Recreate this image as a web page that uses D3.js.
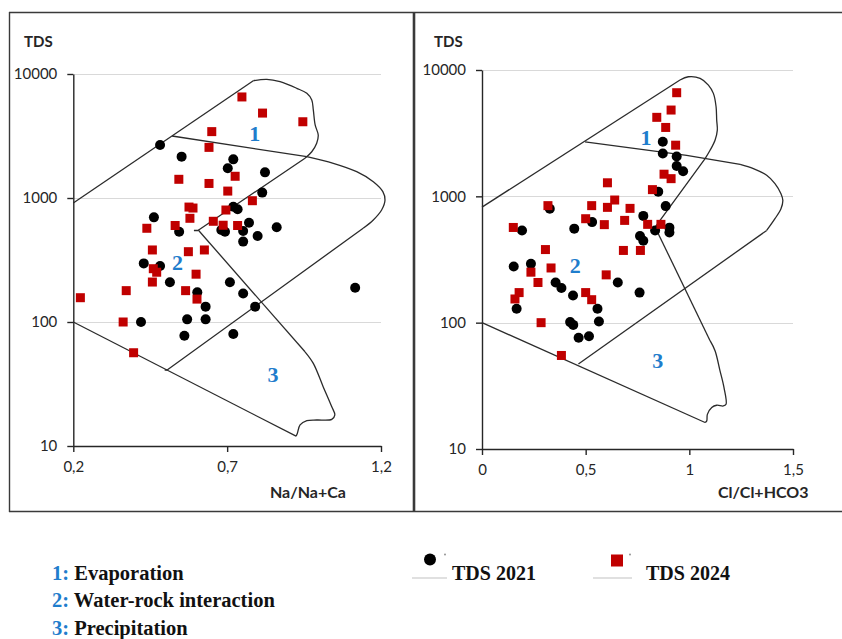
<!DOCTYPE html>
<html>
<head>
<meta charset="utf-8">
<script src="https://cdn.jsdelivr.net/npm/d3@7"></script>
<style>
  html, body { margin: 0; padding: 0; background: #fff; }
  svg { display: block; }
</style>
</head>
<body>
<script>
// ---- Samples: [ratio, TDS (mg/L)] ----
const naTds2021 = [
  [0.482, 2680], [0.552, 2155], [0.720, 2050], [0.702, 1740], [0.823, 1610],
  [0.814, 1105], [0.720, 851], [0.734, 811], [0.462, 698], [0.771, 632],
  [0.544, 535], [0.681, 552], [0.693, 535], [0.752, 542], [0.861, 581],
  [0.799, 494], [0.752, 445], [0.429, 297], [0.482, 283], [0.514, 209],
  [0.709, 209], [0.603, 174], [0.752, 170], [0.630, 133], [0.791, 133],
  [1.116, 189], [0.420, 100], [0.570, 105], [0.630, 105], [0.561, 77.5],
  [0.720, 80]
];
const naTds2024 = [
  [0.748, 6530], [0.815, 4840], [0.946, 4120], [0.650, 3430], [0.641, 2560],
  [0.543, 1415], [0.641, 1310], [0.726, 1497], [0.702, 1137], [0.782, 951],
  [0.576, 845], [0.589, 830], [0.696, 800], [0.579, 686], [0.439, 570],
  [0.531, 600], [0.655, 649], [0.687, 603], [0.734, 600], [0.457, 381],
  [0.574, 369], [0.626, 381], [0.460, 269], [0.471, 252], [0.599, 243],
  [0.457, 210], [0.372, 179], [0.565, 179], [0.602, 153], [0.223, 157],
  [0.362, 100], [0.396, 56.5]
];
const clTds2021 = [
  [0.872, 2700], [0.872, 2180], [0.939, 2065], [0.939, 1737], [0.970, 1578],
  [0.850, 1089], [0.886, 837], [0.327, 797], [0.193, 537], [0.445, 555],
  [0.531, 625], [0.778, 700], [0.762, 486], [0.778, 445], [0.835, 537],
  [0.904, 565], [0.904, 518], [0.153, 278], [0.236, 292], [0.355, 208],
  [0.383, 188], [0.439, 164], [0.655, 208], [0.760, 173], [0.167, 129],
  [0.557, 129], [0.425, 101], [0.440, 96], [0.564, 102], [0.466, 76],
  [0.516, 78]
];
const clTds2024 = [
  [0.939, 6610], [0.912, 4820], [0.843, 4220], [0.886, 3510], [0.934, 2540],
  [0.878, 1497], [0.912, 1380], [0.605, 1280], [0.822, 1130], [0.640, 935],
  [0.318, 844], [0.529, 844], [0.605, 818], [0.714, 803], [0.500, 665],
  [0.688, 645], [0.590, 597], [0.151, 567], [0.799, 600], [0.863, 600],
  [0.306, 379], [0.682, 373], [0.764, 373], [0.333, 271], [0.236, 251],
  [0.270, 208], [0.599, 239], [0.179, 173], [0.159, 154], [0.500, 173],
  [0.529, 152], [0.285, 100], [0.383, 55]
];

// ---- Gibbs field outlines: straight runs and rounded runs, [ratio, TDS] ----
const naLines = [
  [[0.2, 912], [0.785, 8835]],
  [[0.953, 2090], [0.605, 547], [0.592, 547]],
  [[0.521, 3162], [0.959, 2153]],
  [[1.142, 570], [0.505, 41], [0.497, 41]],
  [[0.606, 552], [0.953, 57.5]],
  [[0.924, 12.0], [0.2, 100]]
];
const naCurves = [
  [[0.785, 8835], [0.829, 9060], [0.872, 8665], [0.926, 7670], [0.959, 6980],
   [0.975, 6170], [0.980, 5130], [0.986, 3880], [0.996, 3220], [0.991, 2760],
   [0.975, 2360], [0.953, 2090]],
  [[0.959, 2153], [1.045, 1905], [1.121, 1630], [1.175, 1353], [1.206, 1125],
   [1.213, 964], [1.202, 800], [1.175, 665], [1.142, 570]],
  [[0.953, 57.5], [0.980, 46.4], [1.012, 30.1], [1.040, 20.7], [1.050, 17.8],
   [1.040, 16.4], [0.991, 16.2], [0.959, 16.0], [0.937, 14.8], [0.928, 12.6],
   [0.924, 12.0]]
];
const clLines = [
  [[0, 822], [0.955, 8330]],
  [[1.076, 1990], [0.835, 570], [0.819, 554]],
  [[0.497, 2700], [0.987, 2113], [1.245, 1794]],
  [[1.373, 537], [0.465, 47.0]],
  [[0.835, 570], [1.100, 72.0]],
  [[1.076, 16.2], [0, 100]]
];
const clCurves = [
  [[0.955, 8330], [0.995, 8840], [1.052, 8590], [1.092, 7600], [1.116, 6530],
   [1.129, 5120], [1.132, 4010], [1.135, 3340], [1.124, 2780], [1.100, 2315],
   [1.076, 1990]],
  [[1.245, 1794], [1.309, 1660], [1.373, 1468], [1.413, 1262], [1.442, 1049],
   [1.451, 929], [1.442, 798], [1.413, 665], [1.373, 537]],
  [[1.100, 72.0], [1.124, 60.0], [1.148, 41.6], [1.167, 30.7], [1.177, 22.6],
   [1.164, 21.9], [1.132, 22.2], [1.108, 21.3], [1.087, 18.8], [1.084, 16.7],
   [1.076, 16.2]]
];

// ---- Field numbers: [label, ratio, TDS] ----
const naFieldLabels = [["1", 0.790, 3340], ["2", 0.539, 305], ["3", 0.849, 38.1]];
const clFieldLabels = [["1", 0.791, 2940], ["2", 0.450, 283], ["3", 0.848, 50.8]];

// ---- Axes ----
const tdsTicks = [10, 100, 1000, 10000];
const naTicks = [0.2, 0.7, 1.2];
const clTicks = [0, 0.5, 1, 1.5];
const fieldNames = [["1:", "Evaporation"], ["2:", "Water-rock interaction"], ["3:", "Precipitation"]];
const seriesNames = ["TDS 2021", "TDS 2024"];

const W = 842, H = 639;
const blue = "#1f7dcc";
const red = "#c00000";
const axisFont = "Lato, 'Open Sans', sans-serif";
const serif = "'Liberation Serif', 'DejaVu Serif', serif";

const svg = d3.select("body").append("svg")
  .attr("width", W).attr("height", H)
  .attr("viewBox", `0 0 ${W} ${H}`);
svg.append("rect").attr("width", W).attr("height", H).attr("fill", "#fff");

// panel frames
const frame = svg.append("g").attr("stroke", "#3a3a3a").attr("fill", "none");
frame.append("line").attr("x1", 9).attr("x2", W).attr("y1", 12.5).attr("y2", 12.5).attr("stroke-width", 1.4);
frame.append("line").attr("x1", 9).attr("x2", W).attr("y1", 511.5).attr("y2", 511.5).attr("stroke-width", 1.4);
frame.append("line").attr("x1", 9.5).attr("x2", 9.5).attr("y1", 12).attr("y2", 512).attr("stroke-width", 1.4);
frame.append("line").attr("x1", 414).attr("x2", 414).attr("y1", 12).attr("y2", 512).attr("stroke-width", 2.6);

const commaFmt = d3.formatLocale({ decimal: ",", thousands: "", grouping: [3], currency: ["", ""] });

function panel(opts) {
  const { xDomain, xRange, yRange, xTicks, xTitle, xTitleX, tdsX, s2021, s2024, lines, curves, fieldLabels } = opts;
  const x = d3.scaleLinear().domain(xDomain).range(xRange);
  const y = d3.scaleLog().domain([10, 10000]).range(yRange);
  const g = svg.append("g");

  // gridlines
  g.append("g").selectAll("line").data(tdsTicks.filter(d => d > 10)).join("line")
    .attr("x1", xRange[0]).attr("x2", xRange[1])
    .attr("y1", d => Math.round(y(d)) + 0.5).attr("y2", d => Math.round(y(d)) + 0.5)
    .attr("stroke", "#d9d9d9").attr("stroke-width", 1);

  // axes
  const yAxis = d3.axisLeft(y).tickValues(tdsTicks).tickFormat(d3.format("d"))
    .tickSize(6).tickSizeOuter(0).tickPadding(10);
  const xAxis = d3.axisBottom(x).tickValues(xTicks).tickFormat(commaFmt.format("~g"))
    .tickSize(6).tickSizeOuter(0).tickPadding(9);
  const ya = g.append("g").attr("transform", `translate(${xRange[0]},0)`).call(yAxis);
  const xa = g.append("g").attr("transform", `translate(0,${yRange[0]})`).call(xAxis);
  [ya, xa].forEach(a => {
    a.select(".domain").attr("stroke", "#262626").attr("stroke-width", 1.4);
    a.selectAll(".tick line").attr("stroke", "#262626").attr("stroke-width", 1.4);
    a.selectAll(".tick text").attr("fill", "#262626")
      .style("font-family", axisFont).style("font-size", "15px");
  });

  // axis titles
  g.append("text").attr("x", tdsX).attr("y", 47).text("TDS")
    .attr("fill", "#262626").style("font-family", axisFont)
    .style("font-size", "15px").style("font-weight", "bold");
  g.append("text").attr("x", xTitleX).attr("y", 498).text(xTitle)
    .attr("fill", "#262626").style("font-family", axisFont)
    .style("font-size", "16px").style("font-weight", "bold");

  // Gibbs field outlines
  const straight = d3.line().x(d => x(d[0])).y(d => y(d[1]));
  const rounded = d3.line().x(d => x(d[0])).y(d => y(d[1])).curve(d3.curveCatmullRom.alpha(0.5));
  const outl = g.append("g").attr("fill", "none").attr("stroke", "#2b2b2b")
    .attr("stroke-width", 1.3).attr("stroke-linejoin", "round");
  outl.selectAll("path.s").data(lines).join("path").attr("class", "s").attr("d", straight);
  outl.selectAll("path.c").data(curves).join("path").attr("class", "c").attr("d", rounded);

  // field numbers
  g.append("g").selectAll("text").data(fieldLabels).join("text")
    .attr("x", d => x(d[1])).attr("y", d => y(d[2]))
    .attr("text-anchor", "middle").attr("dy", "0.35em")
    .attr("fill", blue).style("font-family", serif)
    .style("font-size", "22px").style("font-weight", "bold")
    .text(d => d[0]);

  // samples
  g.append("g").selectAll("circle").data(s2021).join("circle")
    .attr("cx", d => x(d[0])).attr("cy", d => y(d[1])).attr("r", 5)
    .attr("fill", "#000");
  const sq = 9;
  g.append("g").selectAll("rect").data(s2024).join("rect")
    .attr("x", d => x(d[0]) - sq / 2).attr("y", d => y(d[1]) - sq / 2)
    .attr("width", sq).attr("height", sq)
    .attr("fill", red);
}

panel({
  xDomain: [0.2, 1.2], xRange: [73.3, 381], yRange: [446, 74],
  xTicks: naTicks, xTitle: "Na/Na+Ca", xTitleX: 270, tdsX: 24,
  s2021: naTds2021, s2024: naTds2024, lines: naLines, curves: naCurves,
  fieldLabels: naFieldLabels
});
panel({
  xDomain: [0, 1.5], xRange: [482, 793], yRange: [449, 70],
  xTicks: clTicks, xTitle: "Cl/Cl+HCO3", xTitleX: 718, tdsX: 434,
  s2021: clTds2021, s2024: clTds2024, lines: clLines, curves: clCurves,
  fieldLabels: clFieldLabels
});

// ---- field legend ----
const fl = svg.append("g").style("font-family", serif).style("font-size", "20.5px").style("font-weight", "bold");
fl.selectAll("text").data(fieldNames).join("text")
  .attr("x", 52).attr("y", (d, i) => 579.5 + i * 27.5)
  .each(function (d) {
    const t = d3.select(this);
    t.append("tspan").attr("fill", blue).text(d[0]);
    t.append("tspan").attr("fill", "#111").text(" " + d[1]);
  });

// ---- series legend ----
const sl = svg.append("g");
const items = [
  { name: seriesNames[0], mx: 430, lx1: 412, lx2: 447, dotX: 445, tx: 452 },
  { name: seriesNames[1], mx: 617, lx1: 593, lx2: 632, dotX: 630, tx: 646 }
];
items.forEach((it, i) => {
  sl.append("line").attr("x1", it.lx1).attr("x2", it.lx2).attr("y1", 578).attr("y2", 578)
    .attr("stroke", "#d6d6d6").attr("stroke-width", 1.5);
  if (i === 0) {
    sl.append("circle").attr("cx", it.mx).attr("cy", 559.5).attr("r", 6).attr("fill", "#000");
  } else {
    sl.append("rect").attr("x", it.mx - 6).attr("y", 554.5).attr("width", 12).attr("height", 12).attr("fill", red);
  }
  sl.append("circle").attr("cx", it.dotX).attr("cy", 554.5).attr("r", 0.9).attr("fill", "#888");
  sl.append("text").attr("x", it.tx).attr("y", 579.5).text(it.name)
    .attr("fill", "#111").style("font-family", serif).style("font-size", "20px").style("font-weight", "bold");
});
</script>
</body>
</html>
